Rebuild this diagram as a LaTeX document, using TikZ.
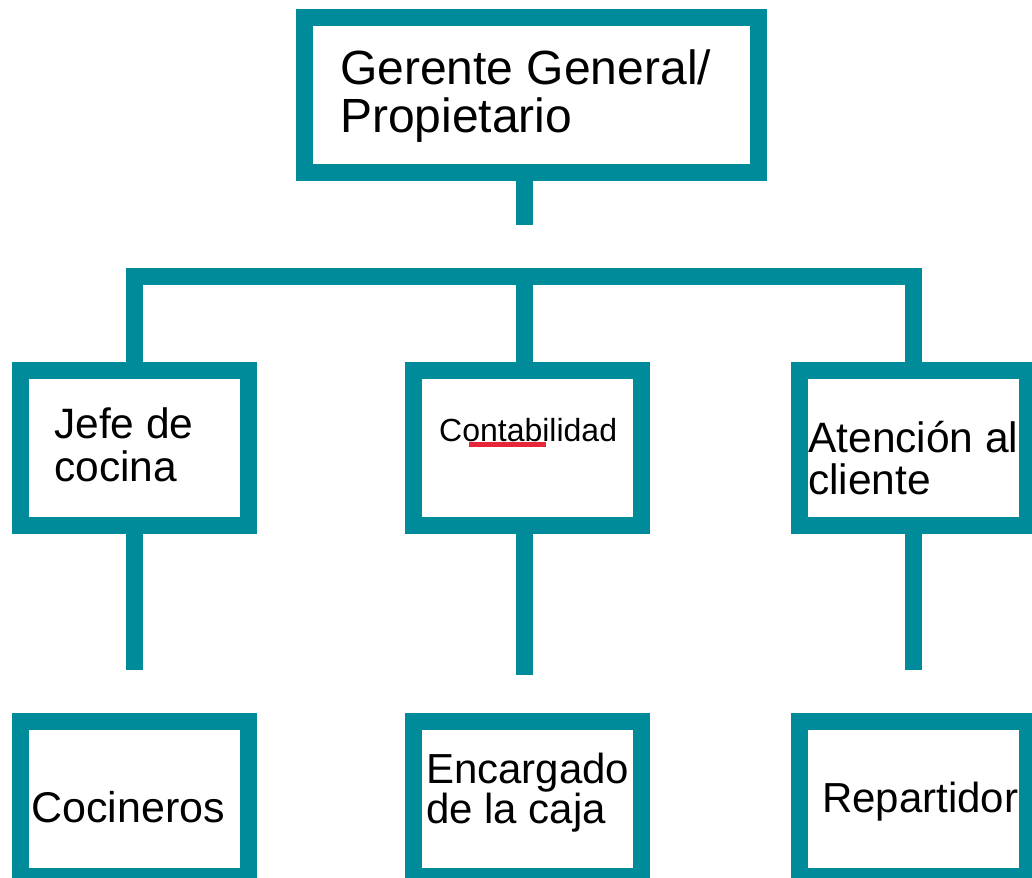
\documentclass[tikz,border=0pt]{standalone}
\usepackage{fontspec}
\setmainfont{Liberation Sans}
\definecolor{orgteal}{RGB}{0,139,155}
\definecolor{spellred}{RGB}{232,38,58}
\tikzset{
  box/.style={draw=orgteal, line width=17pt, fill=white, minimum width=228pt, minimum height=155pt, inner sep=0pt},
  link/.style={draw=orgteal, line width=17pt},
  txt/.style={anchor=base west, inner sep=0pt, align=left}
}

\begin{document}
\begin{tikzpicture}[x=1pt,y=-1pt]
\useasboundingbox (0,0) rectangle (1032,877);
\clip (0,0) rectangle (1032,877);

\node[box, minimum width=454pt](G) at (531.5,95) {};
\node[box](J) at (134,448) {};
\node[box](C) at (527,448) {};
\node[box](A) at (913.5,448) {};
\node[box](K) at (134,799) {};
\node[box](E) at (527,799) {};
\node[box](R) at (913.5,799) {};

\coordinate(G1) at (524,225);
\coordinate(BL) at (134,276.5);
\coordinate(BM) at (524.5,276.5);
\coordinate(BR) at (913.5,276.5);
\coordinate(J1) at (134,670);
\coordinate(C1) at (524.5,675);
\coordinate(A1) at (913.5,670);

\draw[link] (G.south -| G1) -- (G1);
\draw[link] (J.north) -- (BL) -- (BR) -- (A.north);
\draw[link] (BM) -- (BM |- C.north);
\draw[link] (J.south) -- (J1);
\draw[link] (C.south -| C1) -- (C1);
\draw[link] (A.south) -- (A1);

% base anchor sits on the last line
\node[txt, font=\fontsize{48}{48}\selectfont](tG) at (340,133) {Gerente General/\\Propietario};
\node[txt, font=\fontsize{42.5}{43}\selectfont](tJ) at (54,481) {Jefe de\\cocina};
\node[txt, font=\fontsize{32}{38}\selectfont](tC) at (439,441) {Contabilidad};
\draw[spellred, line width=5pt] (469,444) -- (546,444);
\node[txt, font=\fontsize{42.5}{42}\selectfont](tA) at (808,494) {Atención al\\cliente};
\node[txt, font=\fontsize{43}{43}\selectfont](tK) at (31,822) {Cocineros};
\node[txt, font=\fontsize{42}{40}\selectfont](tE) at (426,823) {Encargado\\de la caja};
\node[txt, font=\fontsize{42}{42}\selectfont](tR) at (822,812) {Repartidor};
\end{tikzpicture}
\end{document}
